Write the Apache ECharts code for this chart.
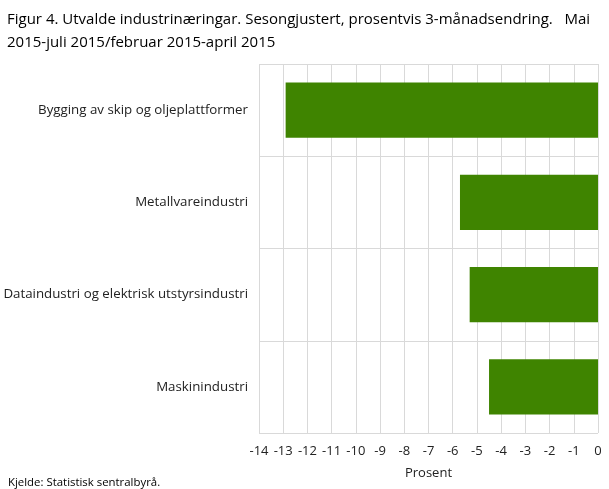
<!DOCTYPE html>
<html>
<head>
<meta charset="utf-8">
<script src="https://cdn.jsdelivr.net/npm/echarts@6/dist/echarts.min.js"></script>
<style>
html,body{margin:0;padding:0;background:#fff;}
#chart{width:609px;height:489px;}
</style>
</head>
<body>
<div id="chart"></div>
<script>
// næringar, ovanfrå og ned
var categories = [
	'Bygging av skip og oljeplattformer',
	'Metallvareindustri',
	'Dataindustri og elektrisk utstyrsindustri',
	'Maskinindustri'
];
var values = [-12.9, -5.7, -5.3, -4.5];
var titleText = 'Figur 4. Utvalde industrinæringar. Sesongjustert, prosentvis 3-månadsendring.   Mai\n2015-juli 2015/februar 2015-april 2015';
var sourceText = 'Kjelde: Statistisk sentralbyrå.';

var option = {
	backgroundColor: '#fff',
	animation: false,
	textStyle: {
		fontFamily: 'Open Sans'
	},
	title: [{
		text: titleText,
		left: 2,
		top: 3,
		textStyle: {
			fontFamily: 'Open Sans',
			fontSize: 15,
			fontWeight: 'normal',
			color: '#000',
			lineHeight: 23
		}
	}, {
		text: sourceText,
		left: 3,
		top: 472,
		textStyle: {
			fontSize: 11.4,
			fontWeight: 'normal',
			color: '#000'
		}
	}],
	grid: {
		left: 259,
		right: 11,
		top: 64,
		bottom: 56
	},
	xAxis: {
		type: 'value',
		min: -14,
		max: 0,
		interval: 1,
		name: 'Prosent',
		nameLocation: 'middle',
		nameGap: 34,
		nameTextStyle: {
			fontSize: 13,
			color: '#222'
		},
		axisLine: { show: false },
		axisTick: { show: false },
		axisLabel: {
			fontSize: 13,
			color: '#222',
			margin: 12
		},
		splitLine: {
			lineStyle: { color: '#d9d9d9', width: 1 }
		}
	},
	yAxis: {
		type: 'category',
		inverse: true,
		data: categories,
		axisLine: { show: false },
		axisTick: { show: false },
		axisLabel: {
			fontSize: 13.3,
			color: '#222',
			margin: 11
		},
		splitLine: {
			show: true,
			lineStyle: { color: '#d9d9d9', width: 1 }
		}
	},
	series: [{
		type: 'bar',
		data: values,
		barCategoryGap: '40%',
		itemStyle: {
			color: '#3f8400'
		}
	}]
};

var myChart = echarts.init(document.getElementById('chart'));
myChart.setOption(option);
</script>
</body>
</html>
